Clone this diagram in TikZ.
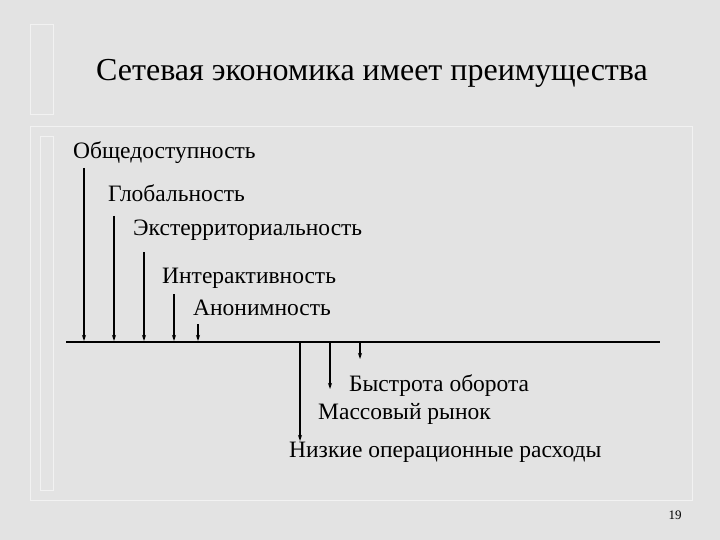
\documentclass[tikz,border=0pt]{standalone}
\usepackage{fontspec}
\usetikzlibrary{arrows.meta}
\setmainfont{Liberation Serif}
\begin{document}
\begin{tikzpicture}[x=1pt,y=-1pt,
 lbl/.style={anchor=west,inner sep=0pt,font=\fontsize{23.5}{26}\selectfont},
 arr/.style={-{Stealth[length=6pt,width=4pt]},line width=1.2pt},
 frm/.style={draw=white!90!gray,line width=1pt}]
\useasboundingbox (0,0) rectangle (720,540);
\fill[gray!22] (0,0) rectangle (720,540);
\draw[frm] (30,25) rectangle (53,115);
\draw[frm] (30,127) rectangle (692,500);
\draw[frm] (40,137) rectangle (53,490);
\node[inner sep=0pt,font=\fontsize{32}{36}\selectfont] (title) at (372,73) {Сетевая экономика имеет преимущества};
\node[lbl] (t1) at (73,153) {Общедоступность};
\node[lbl] (t2) at (108,193) {Глобальность};
\node[lbl] (t3) at (133,230) {Экстерриториальность};
\node[lbl] (t4) at (162,278) {Интерактивность};
\node[lbl] (t5) at (193,308) {Анонимность};
\node[lbl] (b1) at (349,386) {Быстрота оборота};
\node[lbl] (b2) at (318,414) {Массовый рынок};
\node[lbl] (b3) at (289,452) {Низкие операционные расходы};
\node[draw=none,inner sep=0pt,font=\fontsize{13}{14}\selectfont] (pg) at (675,515) {19};
\coordinate (L) at (66,342); \coordinate (R) at (660,342);
\draw[line width=2.5pt] (L) -- (R);
\foreach \x/\y in {84/168,114/216,144/252,174/294,198/324}
  \draw[arr] (\x,\y) -- (\x,341);
\draw[arr] (300,343) -- (300,441);
\draw[arr] (330,343) -- (330,389);
\draw[arr] (360,343) -- (360,359);
\end{tikzpicture}
\end{document}
